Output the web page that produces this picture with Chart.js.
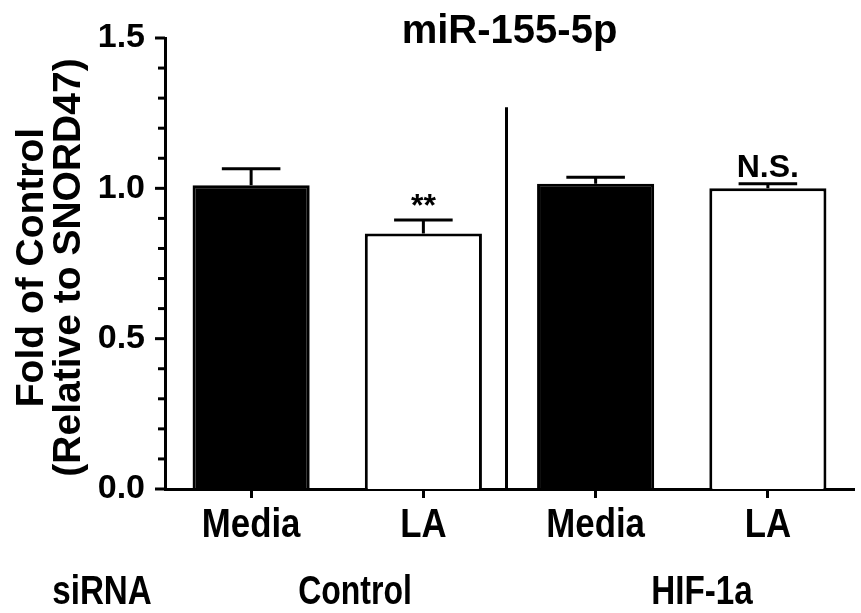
<!DOCTYPE html>
<html>
<head>
<meta charset="utf-8">
<script src="https://cdn.jsdelivr.net/npm/chart.js@4.4.1/dist/chart.umd.min.js"></script>
<style>
  html, body { margin: 0; padding: 0; background: #fff; }
  #wrap { width: 861px; height: 613px; }
</style>
</head>
<body>
<div id="wrap"><canvas id="miRChart" width="861" height="613"></canvas></div>
<script>
// data
const categories = ['Media', 'LA', 'Media', 'LA'];
const means = [1.01, 0.85, 1.015, 1.0];
const sems = [0.055, 0.045, 0.022, 0.015];
const marks = ['', '**', '', 'N.S.'];
const groups = ['Control', 'HIF-1a'];
const yTickLabels = ['0.0', '0.5', '1.0', '1.5'];
const dividerTop = 1.27;

const boldFont = '"Liberation Sans", Arial, sans-serif';

// narrow-looking bold text (the original uses a condensed face)
function narrowText(ctx, text, cx, baseY, size, squeeze) {
    ctx.save();
    ctx.font = 'bold ' + size + 'px ' + boldFont;
    ctx.textAlign = 'center';
    ctx.textBaseline = 'alphabetic';
    ctx.translate(cx, baseY);
    ctx.scale(squeeze, 1);
    ctx.fillText(text, 0, 0);
    ctx.restore();
}

// error bars, significance marks, axis ticks and extra labels
const extras = {
    id: 'extras',
    afterDatasetsDraw(chart) {
        const ctx = chart.ctx;
        const x = chart.scales.x;
        const y = chart.scales.y;
        const meta = chart.getDatasetMeta(0);
        ctx.save();
        ctx.strokeStyle = '#000';
        ctx.fillStyle = '#000';
        ctx.lineWidth = 3;
        ctx.lineCap = 'butt';

        meta.data.forEach((bar, i) => {
            let top = y.getPixelForValue(means[i] + sems[i]);
            let half = bar.width / 4;
            ctx.beginPath();
            ctx.moveTo(bar.x, bar.y);
            ctx.lineTo(bar.x, top);
            ctx.moveTo(bar.x - half, top);
            ctx.lineTo(bar.x + half, top);
            ctx.stroke();

            if (marks[i]) {
                ctx.font = 'bold 32px ' + boldFont;
                ctx.textAlign = 'center';
                ctx.textBaseline = 'alphabetic';
                ctx.fillText(marks[i], bar.x, top - (marks[i] === '**' ? 4 : 7));
            }
        });

        // divider between the two siRNA groups
        let divX = (x.getPixelForValue(1) + x.getPixelForValue(2)) / 2 - 3;
        ctx.beginPath();
        ctx.moveTo(divX, y.getPixelForValue(dividerTop));
        ctx.lineTo(divX, y.bottom);
        ctx.stroke();

        // y ticks, major every 0.5 and minor every 0.1
        for (let k = 0; k <= 15; k++) {
            let py = y.getPixelForValue(k / 10);
            let len = (k % 5 === 0) ? 10 : 7;
            ctx.beginPath();
            ctx.moveTo(x.left - len, py);
            ctx.lineTo(x.left, py);
            ctx.stroke();
        }

        // title
        ctx.font = 'bold 40px ' + boldFont;
        ctx.textAlign = 'center';
        ctx.textBaseline = 'alphabetic';
        ctx.fillText('miR-155-5p', (x.left + x.right) / 2, 43);

        // y axis title
        ctx.save();
        ctx.translate(0, (y.top + y.bottom) / 2 + 4);
        ctx.rotate(-Math.PI / 2);
        ctx.font = 'bold 39px ' + boldFont;
        ctx.fillText('Fold of Control', 0, 43);
        ctx.fillText('(Relative to SNORD47)', 0, 80);
        ctx.restore();

        // category labels
        categories.forEach((c, i) => {
            narrowText(ctx, c, x.getPixelForValue(i), 537, 40, 0.87);
        });

        // group labels
        narrowText(ctx, 'siRNA', 102, 604, 40, 0.83);
        narrowText(ctx, groups[0], 355, 604, 40, 0.8);
        narrowText(ctx, groups[1], 702, 604, 40, 0.83);
        ctx.restore();
    }
};

const ctx = document.getElementById('miRChart').getContext('2d');
new Chart(ctx, {
    type: 'bar',
    data: {
        labels: categories,
        datasets: [{
            data: means,
            backgroundColor: ['#000', '#fff', '#000', '#fff'],
            borderColor: '#000',
            borderWidth: 3,
            borderSkipped: 'bottom',
            barPercentage: 0.68,
            categoryPercentage: 1.0
        }]
    },
    options: {
        responsive: false,
        animation: false,
        events: [],
        layout: { padding: { top: 38, right: 7, left: 0, bottom: 0 } },
        plugins: {
            legend: { display: false },
            tooltip: { enabled: false },
            title: { display: false }
        },
        scales: {
            x: {
                offset: true,
                afterFit(scale) { scale.height = 124; },
                border: { display: true, color: '#000', width: 3 },
                grid: {
                    offset: false,
                    drawOnChartArea: false,
                    drawTicks: true,
                    tickLength: 9,
                    tickWidth: 3,
                    tickColor: '#000'
                },
                ticks: { display: false }
            },
            y: {
                min: 0,
                max: 1.5,
                afterFit(scale) { scale.width = 165; },
                border: { display: true, color: '#000', width: 3 },
                grid: { display: false },
                ticks: {
                    stepSize: 0.5,
                    color: '#000',
                    padding: 12,
                    font: { family: boldFont, size: 34, weight: 'bold' },
                    callback: (v, i) => yTickLabels[i]
                }
            }
        }
    },
    plugins: [extras]
});
</script>
</body>
</html>
